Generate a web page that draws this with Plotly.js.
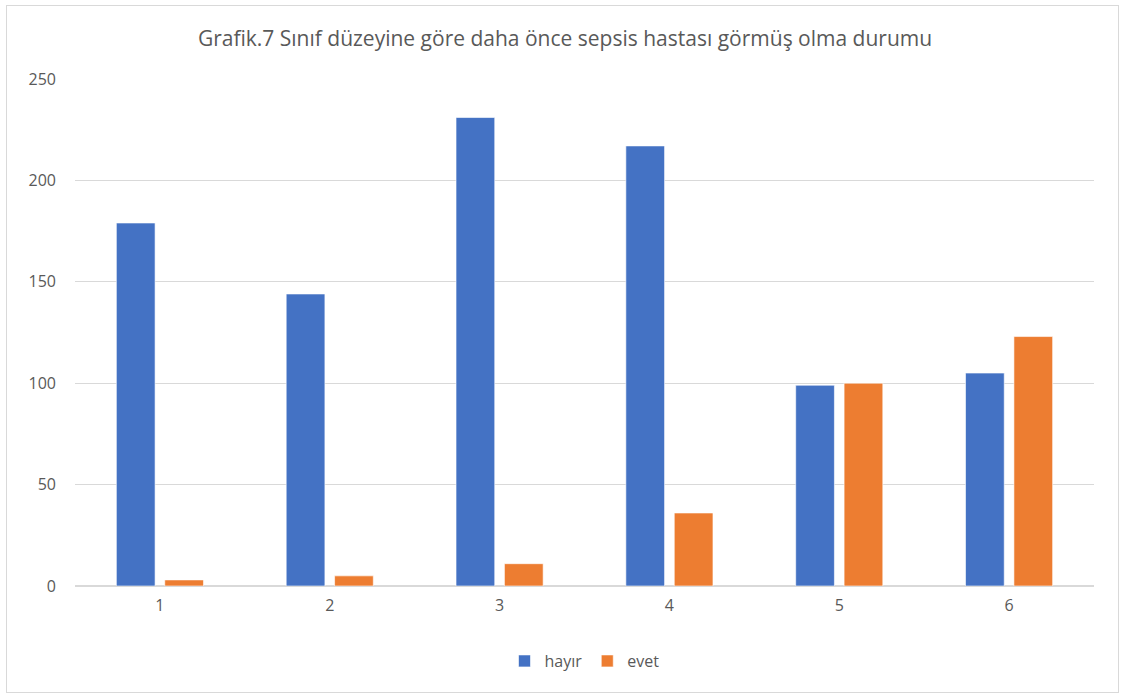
<!DOCTYPE html>
<html>
<head>
<meta charset="utf-8">
<script src="https://cdn.plot.ly/plotly-3.0.1.min.js"></script>
<style>
  html, body { margin: 0; padding: 0; background: #ffffff; }
  #frame { position: absolute; left: 6px; top: 5px; width: 1113px; height: 688px; border: 1px solid #d9d9d9; box-sizing: border-box; }
  #chart { position: absolute; left: 0; top: 0; width: 1130px; height: 700px; }
</style>
</head>
<body>
<div id="frame"></div>
<div id="chart"></div>
<script>
const categories = ["1", "2", "3", "4", "5", "6"];
const hayir = [179, 144, 231, 217, 99, 105];
const evet = [3, 5, 11, 36, 100, 123];
const seriesNames = ["hayır", "evet"];
const titleText = "Grafik.7 Sınıf düzeyine göre daha önce sepsis hastası görmüş olma durumu";

const font = "Open Sans, Liberation Sans, sans-serif";
const traces = [
  { type: "bar", name: seriesNames[0], x: categories, y: hayir,
    marker: { color: "#4472C4", line: { color: "rgba(255,255,255,0.6)", width: 1 } } },
  { type: "bar", name: seriesNames[1], x: categories, y: evet,
    marker: { color: "#ED7D31", line: { color: "rgba(255,255,255,0.6)", width: 1 } } }
];
const layout = {
  width: 1130, height: 700,
  paper_bgcolor: "rgba(0,0,0,0)", plot_bgcolor: "rgba(0,0,0,0)",
  margin: { l: 75, r: 36, t: 79, b: 114 },
  barmode: "group", bargap: 0.43, bargroupgap: 0.2,
  title: { text: titleText, x: 0.5, xanchor: "center", y: 0.945, yanchor: "middle",
           font: { family: font, size: 21, color: "#595959" } },
  font: { family: font, color: "#595959" },
  xaxis: { type: "category", showgrid: false, showline: false, zeroline: false,
           ticks: "", tickfont: { size: 16, color: "#595959" }, ticklabelstandoff: 8 },
  yaxis: { range: [0, 250], dtick: 50, showgrid: true, gridcolor: "#d9d9d9", gridwidth: 1.3,
           zeroline: true, zerolinecolor: "#d9d9d9", zerolinewidth: 1.5, showline: false,
           ticks: "", tickfont: { size: 16, color: "#595959" }, ticklabelstandoff: 18 },
  legend: { orientation: "h", x: 0.5, xanchor: "center", y: -0.148, yanchor: "middle",
            font: { size: 16, color: "#595959" }, itemwidth: 30, traceorder: "normal" },
  showlegend: true
};
Plotly.newPlot("chart", traces, layout, { displayModeBar: false, staticPlot: true });
</script>
</body>
</html>
